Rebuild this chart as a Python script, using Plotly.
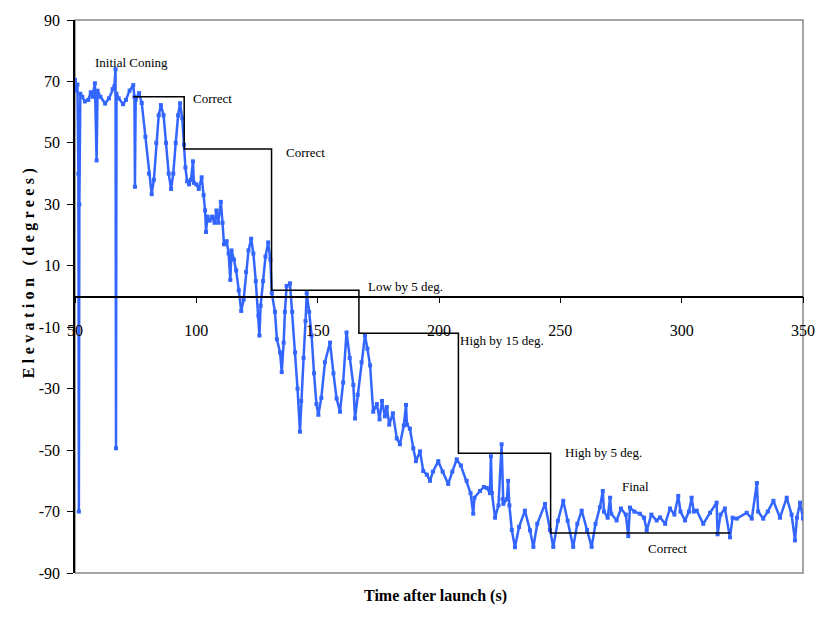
import plotly.graph_objects as go

time_s = [
    50.0, 50.5, 51.0, 51.4, 51.6, 51.8, 52.2, 53.0, 54.1, 55.5, 56.5, 57.2, 58.2, 58.9, 59.3,
    60.5, 62.4, 64.0, 65.5, 66.2, 66.7, 66.9, 67.1, 68.0, 69.8, 71.0, 72.5, 74.0, 74.5, 74.7,
    75.0, 76.4, 77.5, 79.0, 80.5, 81.6, 82.5, 83.5, 84.5, 85.4, 86.5, 87.5, 88.6, 89.6, 90.5,
    91.5, 92.5, 93.3, 94.2, 94.9, 95.5, 96.2, 97.0, 97.8, 98.6, 99.0, 100.0, 101.0, 102.2, 103.0,
    103.6, 104.0, 104.6, 105.5, 106.5, 107.5, 108.3, 109.0, 110.1, 110.8, 111.4, 112.5, 113.3, 114.0, 114.5,
    115.5, 116.4, 117.5, 118.5, 119.5, 120.5, 121.5, 122.6, 123.5, 124.5, 125.6, 126.0, 126.5, 127.5, 128.5,
    129.6, 130.5, 131.1, 132.4, 133.2, 134.5, 135.2, 136.0, 136.5, 137.2, 138.6, 139.5, 140.7, 141.7, 142.7,
    143.2, 144.2, 145.0, 145.5, 146.5, 147.5, 148.5, 149.5, 150.3, 151.5, 153.0, 155.1, 156.5, 157.8, 159.2,
    160.5, 161.9, 163.2, 164.7, 165.4, 166.5, 168.1, 169.5, 170.5, 171.6, 172.9, 174.4, 175.5, 176.5, 177.7,
    178.5, 179.5, 181.0, 182.6, 183.9, 185.5, 186.4, 186.8, 188.0, 189.4, 190.5, 192.2, 193.5, 195.0, 196.3,
    197.5, 199.7, 201.5, 203.8, 205.5, 207.3, 209.0, 211.4, 213.0, 214.1, 214.6, 216.9, 218.5, 219.7, 221.0,
    221.4, 221.8, 223.1, 224.5, 225.8, 226.2, 226.5, 228.0, 228.5, 229.0, 230.0, 231.3, 233.0, 235.4, 237.5,
    238.9, 240.5, 243.7, 245.7, 247.1, 249.0, 251.2, 253.0, 255.3, 257.0, 258.8, 261.0, 262.9, 264.5, 266.3,
    267.5, 268.0, 269.5, 270.5, 271.0, 273.2, 275.0, 277.0, 278.0, 278.7, 280.5, 282.8, 284.5, 285.6, 287.5,
    289.7, 291.1, 293.2, 295.2, 297.0, 298.6, 299.5, 301.4, 303.0, 304.1, 305.0, 306.2, 308.9, 311.7, 314.4,
    314.8, 316.0, 317.8, 319.9, 321.0, 322.7, 326.8, 328.9, 331.0, 331.5, 333.6, 335.5, 337.8, 340.5, 343.3,
    345.3, 346.7, 347.5, 348.8, 350.0,
]
elevation_deg = [
    70.5, 67, 69, 40, -70, 30, 66, 65, 63.5, 64, 66.5, 65, 69.4, 44.3, 67,
    65, 62.8, 64.5, 67.5, 68.4, 74, -49.4, 66, 64.5, 62.6, 64, 67, 68.8, 65, 35.7,
    64, 66.2, 63, 52, 40, 33.3, 38, 50, 59, 62.3, 59, 50, 40, 35, 40,
    50, 59, 62.9, 58, 49.4, 42, 37.5, 36.5, 38, 44, 37, 36.5, 35, 38.8, 33,
    28, 21, 26, 24.7, 26, 24, 28, 24, 30.8, 24, 17, 18, 14, 5.4, 15,
    12, 8.5, 2, -4.7, -1, 8, 15, 18.8, 14, 5, -6.3, -12.7, -3, 5, 13,
    17.6, 12, 1.1, -5, -13.9, -18.2, -24.6, -15, -5, 3.4, 4.3, -5, -18.2, -30, -44,
    -34, -20, -8, 1.1, -5, -12.7, -25, -35, -38.5, -33, -21.4, -15, -25, -33.2, -37.5,
    -28, -11.7, -20, -28.8, -39.7, -32, -21.4, -12.7, -17, -22.4, -37.5, -35, -40, -34, -39,
    -36, -41.7, -38, -46.2, -48.1, -42, -35.3, -41.7, -43, -49.4, -53.6, -50.4, -56.8, -58, -60,
    -57, -53.6, -57, -61, -57, -53, -55, -60, -64, -70.7, -65.5, -63.3, -62, -62.3, -64,
    -52, -64, -72, -68, -48.1, -66, -67.5, -66, -60, -68, -76, -81.6, -75, -69.7, -76.1,
    -81.5, -74, -67.5, -76, -81.5, -73, -66.5, -73, -81.5, -74, -69.7, -76, -81.5, -74, -68.6,
    -63.3, -70, -72, -65.5, -70.7, -72.9, -69, -71, -78, -68.7, -70, -70.7, -72, -76.1, -71,
    -72.9, -71.9, -74, -69, -71, -64.9, -70, -72.9, -70, -65.5, -70, -69.7, -74, -70.4, -67.1,
    -77.4, -71, -69, -78.4, -72, -72.3, -70.4, -72.3, -60.7, -70, -72.3, -70, -66.5, -72, -65.5,
    -71, -79.4, -72, -67.1, -72.3,
]

# Commanded elevation steps
step_time = [74, 95, 95, 131, 131, 167, 167, 208, 208, 246, 246, 320]
step_elev = [65, 65, 48, 48, 2, 2, -12, -12, -51, -51, -77, -77]

x_ticks = [50, 100, 150, 200, 250, 300, 350]
y_ticks = [-90, -70, -50, -30, -10, 10, 30, 50, 70, 90]

labels = ["Initial Coning", "Correct", "Correct", "Low by 5 deg.", "High by 15 deg.",
          "High by 5 deg.", "Final", "Correct"]
label_pos = [(73.1, 76.2), (106.7, 64.6), (145.0, 46.9), (186.2, 3.1), (226.0, -14.3),
             (267.6, -50.9), (280.8, -61.9), (294.3, -81.9)]

SERIF = "Liberation Serif"
BLUE = "#3366FF"

fig = go.Figure()
fig.add_trace(go.Scatter(
    x=time_s, y=elevation_deg, mode="lines+markers",
    line=dict(color=BLUE, width=2.5),
    marker=dict(color=BLUE, size=4, symbol="square"),
    showlegend=False, hoverinfo="skip",
))
fig.add_trace(go.Scatter(
    x=step_time, y=step_elev, mode="lines",
    line=dict(color="black", width=1.5),
    showlegend=False, hoverinfo="skip",
))

for txt, (ax, ay) in zip(labels, label_pos):
    fig.add_annotation(x=ax, y=ay, xref="x", yref="y", text=txt, showarrow=False,
                       font=dict(family=SERIF, size=13, color="black"))

fig.add_annotation(x=(435 - 75) / 728, y=(573 - 607) / 559, xref="paper", yref="paper",
                   text="<b>Time after launch (s)</b>", showarrow=False,
                   font=dict(family=SERIF, size=16, color="black"))
fig.add_annotation(x=(18 - 75) / 728, y=(573 - 268) / 559, xref="paper", yref="paper",
                   text='<span style="letter-spacing:4.4px"><b>Elevation (degrees)</b></span>',
                   textangle=-90, showarrow=False,
                   font=dict(family=SERIF, size=16, color="black"))

# Plot-area border
fig.add_shape(type="rect", xref="paper", yref="paper", x0=0, y0=0, x1=1, y1=1,
              line=dict(color="#888888", width=1.5), layer="below")

fig.update_layout(
    width=830, height=620,
    margin=dict(l=75, r=27, t=14, b=47),
    paper_bgcolor="white", plot_bgcolor="white",
    font=dict(family=SERIF, size=16, color="black"),
    xaxis=dict(range=[50, 350], tickvals=x_ticks, ticktext=[str(v) for v in x_ticks],
               anchor="free", position=0.5, showline=True, linecolor="black", linewidth=1.5,
               ticks="outside", ticklen=6, tickcolor="black", ticklabelstandoff=14,
               showgrid=False, zeroline=False, tickfont=dict(family=SERIF, size=16)),
    yaxis=dict(range=[-90, 90], tickvals=y_ticks, ticktext=[str(v) for v in y_ticks],
               showline=True, linecolor="black", linewidth=1.5,
               ticks="outside", ticklen=6, tickcolor="black", ticklabelstandoff=4,
               showgrid=False, zeroline=False, tickfont=dict(family=SERIF, size=16)),
)

fig.write_html("out.html")
